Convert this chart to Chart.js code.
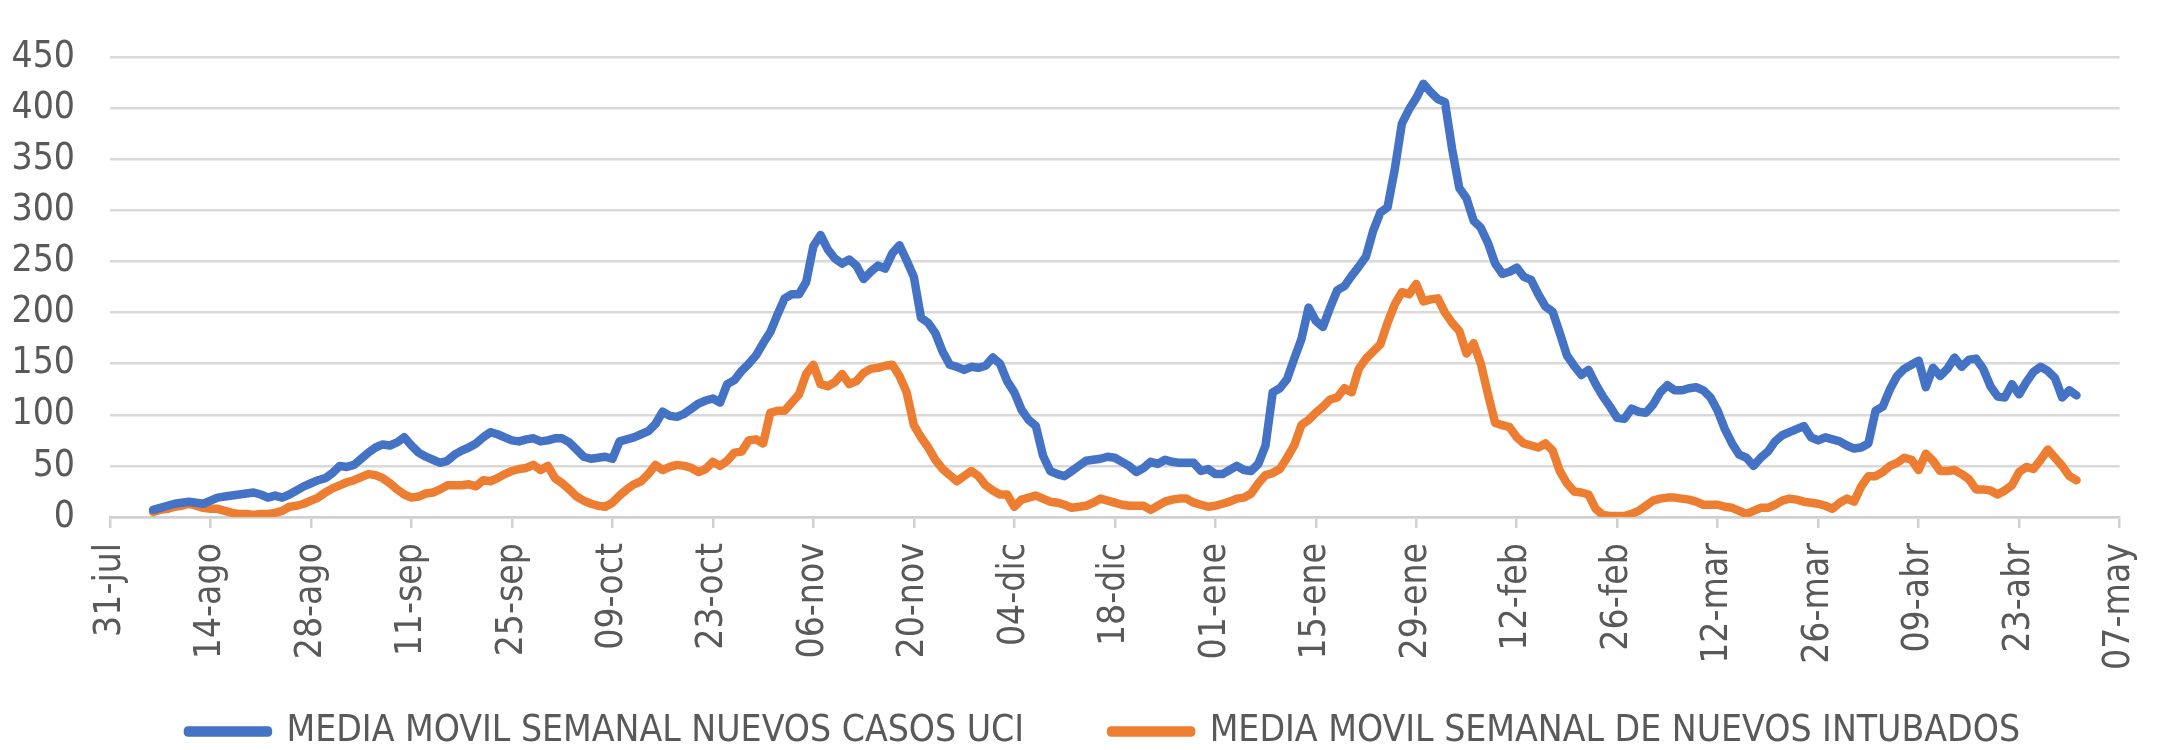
<!DOCTYPE html>
<html lang="es">
<head>
  <meta charset="UTF-8" />
  <title>Media movil semanal UCI e intubados</title>
  <script src="https://cdn.jsdelivr.net/npm/chart.js"></script>
  <style>
    body {
      margin: 0;
      background: #fff;
    }
    canvas {
      display: block;
    }
  </style>
</head>
<body>
  <canvas id="chart" width="2179" height="750"></canvas>

  <script>
    // x axis: days since 31-jul, one tick every 14 days
    const tickLabels = [
      '31-jul', '14-ago', '28-ago', '11-sep', '25-sep', '09-oct', '23-oct',
      '06-nov', '20-nov', '04-dic', '18-dic', '01-ene', '15-ene', '29-ene',
      '12-feb', '26-feb', '12-mar', '26-mar', '09-abr', '23-abr', '07-may'
    ];
    const tickStep = 14;
    const firstDay = 6; // 06-ago

    const seriesNames = [
      'MEDIA MOVIL SEMANAL NUEVOS CASOS UCI',
      'MEDIA MOVIL SEMANAL DE NUEVOS INTUBADOS'
    ];

    // daily values, from 06-ago to 01-may
    const casosUci = [
      7, 9, 11, 13, 14, 15, 14, 13, 16, 19,
      20, 21, 22, 23, 24, 22, 19, 21, 19, 22,
      26, 30, 33, 36, 38, 43, 50, 49, 51, 57,
      63, 68, 71, 70, 73, 78, 70, 63, 59, 56,
      53, 55, 61, 65, 68, 72, 78, 83, 81, 78,
      75, 74, 76, 77, 74, 75, 77, 77, 73, 66,
      59, 57, 58, 59, 57, 74, 76, 78, 81, 84,
      91, 103, 99, 98, 101, 106, 111, 114, 116, 112,
      130, 134, 143, 150, 158, 170, 181, 198, 214, 218,
      218, 230, 265, 276, 262, 253, 248, 252, 246, 233,
      240, 246, 243, 258, 266, 251, 235, 195, 190, 180,
      162, 149, 147, 144, 147, 146, 148, 156, 150, 133,
      122, 105, 95, 89, 60, 45, 42, 40, 45, 50,
      55, 56, 57, 59, 58, 54, 50, 44, 48, 54,
      52, 56, 54, 53, 53, 53, 45, 47, 42, 42,
      46, 50, 46, 45, 52, 70, 122, 126, 135, 155,
      174, 205, 192, 186, 205, 222, 226, 236, 245, 255,
      280, 298, 303, 340, 385, 399, 410, 424, 416, 409,
      406, 360, 322, 312, 290, 283, 268, 248, 238, 240,
      244, 235, 232, 218, 206, 201, 180, 158, 148, 139,
      144, 130, 118, 108, 97, 96, 106, 103, 102, 110,
      122, 129, 124, 124, 126, 127, 124, 117, 104, 86,
      72, 61, 58, 50, 58, 64, 74, 80, 83, 86,
      89, 78, 75, 78, 76, 74, 70, 67, 68, 72,
      104, 108, 125, 138, 145, 149, 153, 127, 146, 138,
      145, 156, 147, 154, 155, 145, 128, 118, 117, 130,
      120, 132, 142, 147, 143, 136, 117, 124, 119
    ];

    const intubados = [
      5, 7, 8, 10, 11, 13, 11, 9, 8, 8,
      6, 4, 3, 3, 2, 3, 3, 4, 6, 10,
      11, 13, 16, 19, 24, 28, 31, 34, 36, 39,
      42, 41, 38, 33, 27, 22, 19, 20, 23, 24,
      27, 31, 31, 31, 32, 30, 36, 35, 38, 42,
      45, 47, 48, 51, 46, 50, 38, 33, 27, 20,
      16, 13, 11, 10, 14, 21, 27, 32, 35, 42,
      51, 46, 49, 51, 50, 48, 44, 47, 54, 50,
      55, 63, 64, 75, 76, 72, 102, 104, 104, 112,
      120, 140, 149, 130, 128, 132, 140, 130, 133, 141,
      145, 146, 148, 149, 138, 122, 90, 78, 68, 56,
      47, 41, 35, 40, 45, 40, 31, 26, 22, 22,
      10, 17, 19, 21, 18, 15, 14, 12, 9, 10,
      11, 14, 18, 16, 14, 12, 11, 11, 11, 7,
      11, 15, 17, 18, 18, 14, 12, 10, 11, 13,
      15, 18, 19, 23, 33, 41, 43, 47, 58, 70,
      90, 95, 102, 108, 115, 117, 126, 122, 145, 155,
      162, 169, 190, 208, 220, 218, 228, 211, 213, 214,
      200, 190, 182, 160, 170, 150, 120, 92, 90, 88,
      78, 72, 70, 68, 72, 65, 45, 33, 25, 24,
      22, 8, 2, 1, 1, 1, 3, 6, 11, 16,
      18, 19, 19, 18, 17, 15, 12, 12, 12, 10,
      9, 6, 3, 6, 9, 9, 12, 16, 18, 17,
      15, 14, 13, 11, 8, 14, 18, 15, 30, 40,
      40, 44, 50, 53, 58, 56, 46, 62, 55, 45,
      45, 46, 42, 37, 27, 27, 26, 22, 26, 31,
      44, 49, 47, 56, 66, 58, 50, 40, 36
    ];

    Chart.defaults.font.family = "'DejaVu Sans Condensed', 'DejaVu Sans', sans-serif";
    Chart.defaults.font.size = 37;
    Chart.defaults.color = '#595959';

    const toPoints = arr => arr.map((v, i) => ({ x: firstDay + i, y: v }));

    function lineSet(label, values, color) {
      return {
        label,
        data: toPoints(values),
        borderColor: color,
        backgroundColor: color,
        borderWidth: 8.5,
        borderJoinStyle: 'round',
        borderCapStyle: 'round',
        pointRadius: 0,
        tension: 0
      };
    }

    // the x scale box is kept short so the legend can sit higher;
    // stretch it back down after layout so its rotated labels aren't clipped,
    // and nudge the legend right a little
    const layoutFix = {
      id: 'layoutFix',
      afterLayout(chart) {
        chart.scales.x.bottom = chart.height;
        chart.legend.left += 28;
        chart.legend.right += 28;
      }
    };

    new Chart(document.getElementById('chart').getContext('2d'), {
      type: 'line',
      data: {
        datasets: [
          lineSet(seriesNames[0], casosUci, '#4472C4'),
          lineSet(seriesNames[1], intubados, '#ED7D31')
        ]
      },
      options: {
        responsive: false,
        animation: false,
        layout: { padding: { left: 0, right: 27, top: 23, bottom: 0 } },
        plugins: {
          legend: {
            position: 'bottom',
            maxHeight: 124,
            labels: { boxWidth: 80, boxHeight: 2, padding: 87 }
          },
          tooltip: { enabled: false }
        },
        scales: {
          x: {
            type: 'linear',
            min: 0,
            max: (tickLabels.length - 1) * tickStep,
            afterFit: s => { s.height = 109; },
            ticks: {
              stepSize: tickStep,
              autoSkip: false,
              minRotation: 90,
              maxRotation: 90,
              padding: 15,
              callback: v => tickLabels[Math.round(v / tickStep)]
            },
            grid: { drawOnChartArea: false, tickLength: 11, color: '#d0d0d0', lineWidth: 2.5 },
            border: { color: '#d0d0d0', width: 2.5 }
          },
          y: {
            min: 0,
            max: 450,
            afterFit: s => { s.width = 110; },
            ticks: { stepSize: 50, autoSkip: false, padding: 35 },
            grid: { drawTicks: false, color: '#d9d9d9', lineWidth: 2.5 },
            border: { display: false }
          }
        }
      },
      plugins: [layoutFix]
    });
  </script>
</body>
</html>
